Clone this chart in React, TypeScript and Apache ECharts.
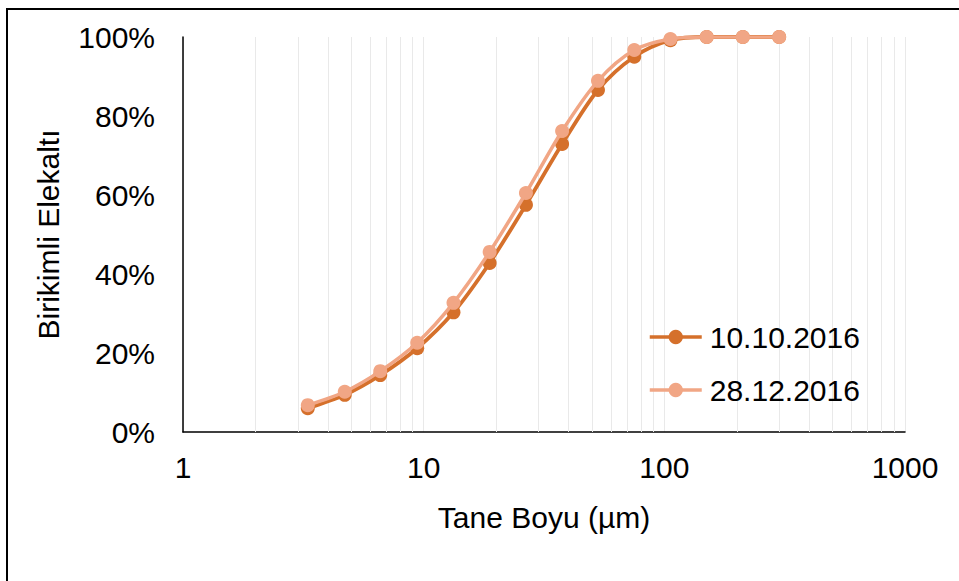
import React, { useEffect, useRef } from "react";
import * as echarts from "echarts";

const sizes = [3.3, 4.7, 6.6, 9.4, 13.3, 18.8, 26.6, 37.6, 53, 75, 106, 150, 212, 300];
const series1Name = "10.10.2016";
const series1 = [6.0, 9.4, 14.4, 21.2, 30.3, 42.8, 57.5, 72.9, 86.6, 95.0, 99.2, 100, 100, 100];
const series2Name = "28.12.2016";
const series2 = [6.8, 10.2, 15.4, 22.6, 32.7, 45.6, 60.5, 76.2, 88.9, 96.7, 99.5, 100, 100, 100];
const minorGridValues = [2, 3, 4, 5, 6, 7, 8, 9, 20, 30, 40, 50, 60, 70, 80, 90, 200, 300, 400, 500, 600, 700, 800, 900];
const xTitle = "Tane Boyu (µm)";
const yTitle = "Birikimli Elekaltı";

const FONT = "'Liberation Sans', Arial, sans-serif";
const DARK = "#D5702B";
const LIGHT = "#F1A685";
const GRID = "#E9E9E9";

export default function App() {
  const ref = useRef<HTMLDivElement>(null);
  useEffect(() => {
    if (!ref.current) return;
    const chart = echarts.init(ref.current, undefined, { renderer: "svg" });
    chart.setOption({
      animation: false,
      backgroundColor: "#fff",
      textStyle: { fontFamily: FONT },
      graphic: [
        {
          type: "rect",
          shape: { x: 7, y: 9, width: 1000, height: 1000 },
          style: { fill: "none", stroke: "#000", lineWidth: 2 },
          z: -1,
          silent: true,
        },
      ],
      grid: { left: 183, top: 37, right: 54, bottom: 149, containLabel: false },
      legend: {
        orient: "vertical",
        left: 648,
        top: 322,
        itemWidth: 52,
        itemHeight: 18,
        itemGap: 23,
        padding: 0,
        data: [series1Name, series2Name],
        lineStyle: { width: 3.5 },
        textStyle: { fontSize: 30, color: "#000", fontFamily: FONT, padding: [0, 0, 0, 3] },
      },
      xAxis: {
        type: "log",
        logBase: 10,
        min: 1,
        max: 1000,
        name: xTitle,
        nameLocation: "middle",
        nameGap: 70,
        nameTextStyle: { fontSize: 30, color: "#000", fontFamily: FONT },
        axisLine: { show: true, lineStyle: { color: "#000", width: 1.5 } },
        axisTick: { show: false },
        axisLabel: {
          fontSize: 30,
          color: "#000",
          margin: 20,
          fontFamily: FONT,
          formatter: (v: number) => String(Math.round(v)),
        },
        splitLine: { show: true, lineStyle: { color: GRID, width: 1 } },
        minorTick: { show: false },
      },
      yAxis: {
        type: "value",
        min: 0,
        max: 100,
        interval: 20,
        name: yTitle,
        nameLocation: "middle",
        nameGap: 120,
        nameTextStyle: { fontSize: 30, color: "#000", fontFamily: FONT },
        axisLine: { show: true, lineStyle: { color: "#000", width: 1.5 } },
        axisTick: { show: false },
        axisLabel: { fontSize: 30, color: "#000", margin: 28, formatter: "{value}%", fontFamily: FONT },
        splitLine: { show: false },
      },
      series: [
        {
          name: series1Name,
          type: "line",
          smooth: 0.3,
          symbol: "circle",
          symbolSize: 14,
          z: 3,
          lineStyle: { color: DARK, width: 3.8 },
          itemStyle: { color: DARK },
          data: sizes.map((s, i) => [s, series1[i]]),
          markLine: {
            silent: true,
            z: 1,
            symbol: ["none", "none"],
            label: { show: false },
            lineStyle: { color: GRID, width: 1, type: "solid" },
            data: minorGridValues.map((v) => ({ xAxis: v })),
          },
        },
        {
          name: series2Name,
          type: "line",
          smooth: 0.3,
          symbol: "circle",
          symbolSize: 14,
          z: 4,
          lineStyle: { color: LIGHT, width: 3.5 },
          itemStyle: { color: LIGHT },
          data: sizes.map((s, i) => [s, series2[i]]),
        },
      ],
    });
    return () => chart.dispose();
  }, []);
  return (
    <div
      ref={ref}
      style={{ position: "fixed", left: 0, top: 0, width: 959, height: 581, background: "#fff" }}
    />
  );
}
